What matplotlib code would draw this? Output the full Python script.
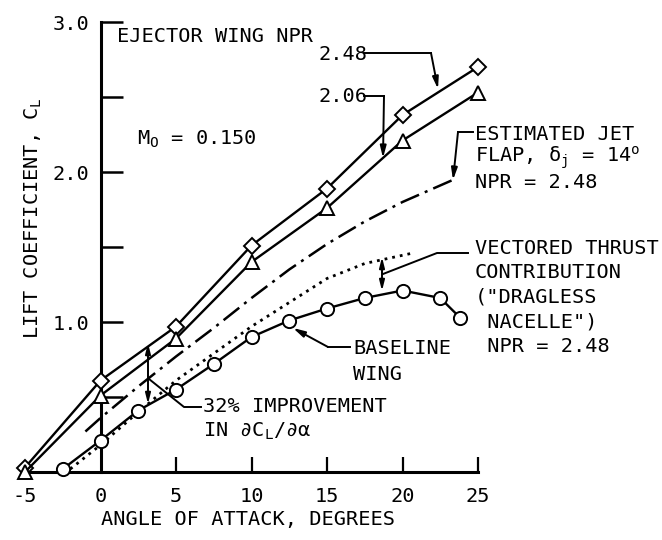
import matplotlib
matplotlib.use("Agg")
import matplotlib.pyplot as plt

plt.rcParams['font.family'] = ['DejaVu Sans Mono', 'DejaVu Sans']
plt.rcParams['mathtext.fontset'] = 'custom'
plt.rcParams['mathtext.rm'] = 'DejaVu Sans Mono'
plt.rcParams['mathtext.it'] = 'DejaVu Sans Mono'
plt.rcParams['mathtext.sf'] = 'DejaVu Sans Mono'

# ---- data ----
alpha_ejector = [-5, 0, 5, 10, 15, 20, 25]
cl_npr248 = [0.03, 0.61, 0.97, 1.51, 1.89, 2.38, 2.70]
cl_npr206 = [0.00, 0.51, 0.89, 1.40, 1.76, 2.21, 2.53]

alpha_base = [-2.5, 0, 2.5, 5, 7.5, 10, 12.5, 15, 17.5, 20, 22.5, 23.8]
cl_base = [0.02, 0.21, 0.41, 0.55, 0.72, 0.90, 1.01, 1.09, 1.16, 1.21, 1.16, 1.03]

alpha_jetflap = [-1.0, 0, 2.5, 5, 7.5, 10, 12.5, 15, 17.5, 20, 23.4]
cl_jetflap = [0.27, 0.36, 0.57, 0.77, 0.96, 1.16, 1.35, 1.52, 1.67, 1.80, 1.95]

alpha_vect = [-2.0, 0, 2.5, 5, 7.5, 10, 12.5, 15, 17.5, 20.7]
cl_vect = [0.02, 0.18, 0.40, 0.61, 0.79, 0.97, 1.13, 1.29, 1.39, 1.46]

x_ticks = [-5, 0, 5, 10, 15, 20, 25]
x_ticklabels = ['-5', '0', '5', '10', '15', '20', '25']
y_ticks = [0.5, 1.0, 1.5, 2.0, 2.5, 3.0]
y_ticklabels = ['', '1.0', '', '2.0', '', '3.0']

FS = 14.6
W, H = 662, 540

fig = plt.figure(figsize=(W / 100, H / 100), dpi=100)
ax = fig.add_axes([25 / W, 68 / H, 453 / W, 450 / H])
ax.set_xlim(-5, 25)
ax.set_ylim(0, 3.0)

# spines
for s in ['top', 'right']:
    ax.spines[s].set_visible(False)
ax.spines['left'].set_position(('data', 0))
ax.spines['left'].set_linewidth(2.2)
ax.spines['bottom'].set_linewidth(2.2)

ax.set_xticks(x_ticks)
ax.set_xticklabels(x_ticklabels)
ax.set_yticks(y_ticks)
ax.set_yticklabels(y_ticklabels)
ax.tick_params(axis='x', direction='in', length=11, width=1.6, pad=11, labelsize=FS)
ax.tick_params(axis='y', direction='in', length=16, width=1.8, pad=8, labelsize=FS)
xt = ax.xaxis.get_major_ticks()
xt[0].tick1line.set_visible(False)
xt[1].tick1line.set_visible(False)

# data curves
mk = dict(mfc='white', mec='black', mew=1.4, clip_on=False, zorder=4)
ax.plot(alpha_ejector, cl_npr248, '-', color='black', lw=1.7, marker='D', ms=8.5, **mk)
ax.plot(alpha_ejector, cl_npr206, '-', color='black', lw=1.7, marker='^', ms=10, **mk)
ax.plot(alpha_base, cl_base, '-', color='black', lw=1.7, marker='o', ms=9.5, **mk)
ax.plot(alpha_jetflap, cl_jetflap, color='black', lw=1.8,
        linestyle=(0, (8, 2.5, 1.2, 2.5)), zorder=3)
ax.plot(alpha_vect, cl_vect, color='black', lw=2.0, linestyle=(0, (1, 1.8)),
        zorder=3)


def P(xp, yp):
    return ((xp - 100.5) / 15.1, (472 - yp) / 150.0)


def txt(xp, yp, s):
    x, y = P(xp, yp)
    ax.text(x, y, s, fontsize=FS, ha='left', va='center', clip_on=False)


def poly(pts, arrow=True):
    pts = [P(*p) for p in pts]
    xs = [p[0] for p in pts]
    ys = [p[1] for p in pts]
    if arrow:
        ax.plot(xs[:-1], ys[:-1], color='black', lw=1.4, clip_on=False)
        ax.annotate('', xy=pts[-1], xytext=pts[-2],
                    arrowprops=dict(arrowstyle='-|>,head_length=0.7,head_width=0.18',
                                    color='black', lw=1.4, shrinkA=0, shrinkB=0),
                    annotation_clip=False)
    else:
        ax.plot(xs, ys, color='black', lw=1.4, clip_on=False)


def dbl(xp, y1p, y2p):
    ax.annotate('', xy=P(xp, y1p), xytext=P(xp, y2p),
                arrowprops=dict(arrowstyle='<|-|>,head_length=0.6,head_width=0.15',
                                color='black', lw=1.4, shrinkA=0, shrinkB=0),
                annotation_clip=False)


# texts
txt(117, 37, 'EJECTOR WING NPR')
txt(318, 54, '2.48')
txt(318, 96, '2.06')
txt(137, 139, r'$\mathregular{M_O}$ = 0.150')
txt(475, 134, 'ESTIMATED JET')
txt(475, 158, r'FLAP, $\mathregular{\delta_j}$ = 14$\mathregular{^o}$')
txt(475, 182, 'NPR = 2.48')
txt(475, 248, 'VECTORED THRUST')
txt(475, 273, 'CONTRIBUTION')
txt(475, 297, '("DRAGLESS')
txt(475, 322, ' NACELLE")')
txt(475, 347, ' NPR = 2.48')
txt(353, 349, 'BASELINE')
txt(353, 374, 'WING')
txt(203, 407, '32% IMPROVEMENT')
txt(203, 431, r'IN ∂$\mathregular{C_L}$/∂α')

# leaders
poly([(364, 53), (431, 53), (438, 89)])
poly([(364, 96), (384, 96), (383, 158)])
poly([(473, 132), (458, 132), (453, 180)])
poly([(468, 253), (437, 253), (383, 274)], arrow=False)
dbl(382, 257, 291)
poly([(350, 347), (328, 347), (293, 328)])
poly([(201, 407), (184, 407), (149, 379)], arrow=False)
dbl(148, 343, 404)

fig.text(33 / W, 1 - 218 / H, r'LIFT COEFFICIENT, $\mathregular{C_L}$', rotation=90,
         ha='center', va='center', fontsize=FS)
fig.text(248 / W, 1 - 520 / H, 'ANGLE OF ATTACK, DEGREES', ha='center',
         va='center', fontsize=FS)

fig.savefig('out.png', dpi=100)
